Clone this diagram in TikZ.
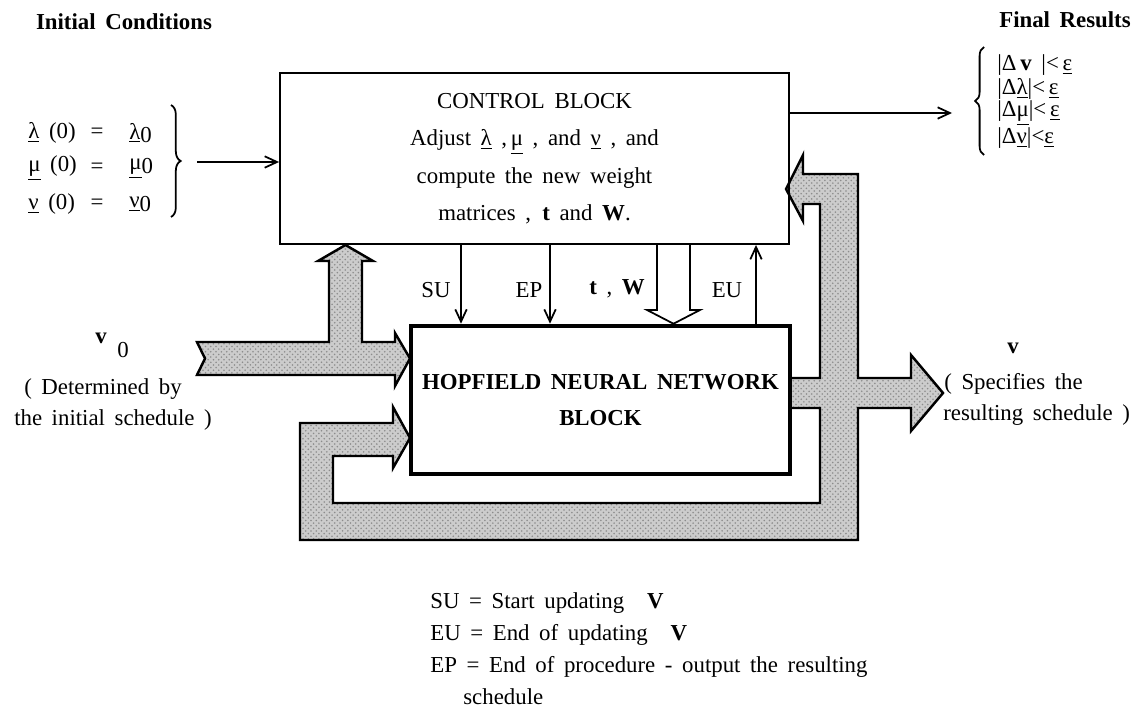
\documentclass[tikz,border=0pt]{standalone}
\usepackage{fontspec}
\setmainfont{Liberation Serif}
\usetikzlibrary{arrows.meta,patterns,decorations.pathreplacing}
\begin{document}
\begin{tikzpicture}[x=0.02cm,y=-0.02cm,
  every node/.style={font={\fontsize{13}{16}\selectfont\spaceskip=0.42em\relax}, inner sep=0pt},
  sig/.style={line width=1pt, -{Straight Barb[length=7pt,width=6.5pt,line width=1pt]}},
  shaded/.style={draw, line width=1.4pt, line join=miter, preaction={fill=gray!40}, pattern=crosshatch dots, pattern color=gray!90},
  ctrlbox/.style={draw, line width=1.1pt, minimum width=10.18cm, minimum height=3.42cm, align=center,
    font={\fontsize{13}{21.3}\selectfont\spaceskip=0.42em\relax}},
  hopbox/.style={draw, line width=2.6pt, minimum width=7.58cm, minimum height=2.96cm, align=center,
    font={\fontsize{13}{20.5}\selectfont\bfseries\spaceskip=0.42em\relax}},
  hdr/.style={font={\fontsize{13}{16}\selectfont\bfseries\spaceskip=0.42em\relax}},
  brc/.style={decorate, line width=1pt}
]
\fill[white] (0,0) rectangle (1142,726);
\useasboundingbox (0,0) rectangle (1142,726);

% shaded arrows
\path[shaded] (197,342) -- (329,342) -- (329,261) -- (318,261) -- (345.5,245) -- (373,261) -- (362,261)
  -- (362,342) -- (395,342) -- (395,333) -- (410,358.5) -- (395,386) -- (395,375) -- (197,375) -- (205,358.5) -- cycle;
\path[shaded] (410,438) -- (393,468) -- (393,456) -- (333,456) -- (333,503) -- (820,503) -- (820,408)
  -- (790,408) -- (790,378) -- (820,378) -- (820,204) -- (803,204) -- (803,221) -- (786,189)
  -- (803,155) -- (803,174) -- (858,174) -- (858,378) -- (911,378) -- (911,355) -- (943,393)
  -- (911,431) -- (911,408) -- (858,408) -- (858,540) -- (300,540) -- (300,423) -- (393,423)
  -- (393,407) -- cycle;

% blocks
\node[ctrlbox] (ctrl) at (534.5,158.5) {CONTROL BLOCK\\
  Adjust \underline{λ} ,\,\underline{μ} , and \underline{ν} , and\\
  compute the new weight\\
  matrices ,\enspace \textbf{t} and \textbf{W}.};
\node[hopbox] (hop) at (600.5,400) {HOPFIELD NEURAL NETWORK\\BLOCK};

% signal connectors
\coordinate (xSU) at (461,0);
\coordinate (xEP) at (550,0);
\coordinate (xTL) at (657,0);
\coordinate (xTR) at (690,0);
\coordinate (xTM) at (673.5,0);
\coordinate (xEU) at (756,0);
\coordinate (hL) at (647,310);
\coordinate (hR) at (700,310);
\coordinate (yTH) at (0,310);
\draw[sig] (ctrl.south -| xSU) -- (hop.north -| xSU);
\draw[sig] (ctrl.south -| xEP) -- (hop.north -| xEP);
\draw[sig] (hop.north -| xEU) -- (ctrl.south -| xEU);
\draw[line width=1pt, line join=miter] (ctrl.south -| xTL) -- (xTL |- yTH) -- (hL)
  -- (hop.north -| xTM) -- (hR) -- (xTR |- yTH) -- (ctrl.south -| xTR);
\node (lSU) at (436,290) {SU};
\node (lEP) at (529,290) {EP};
\node (lTW) at (617,289) {\textbf{t} , \textbf{W}};
\node (lEU) at (727,290) {EU};

% inputs
\coordinate (inA) at (197,162);
\draw[sig] (inA) -- (inA -| ctrl.west);
\coordinate (outA) at (952,113);
\draw[sig] (outA -| ctrl.east) -- (outA);

% headers
\node[hdr] (ic) at (124,22) {Initial Conditions};
\node[hdr] (fr) at (1065,20) {Final Results};

% initial conditions
\node[anchor=west] (e1a) at (28,133) {\underline{λ} (0)};
\node (e1b) at (97,133) {=};
\node[anchor=west] (e1c) at (129,133) {\underline{λ}\raisebox{-2pt}{0}};
\node[anchor=west] (e2a) at (28,168) {\underline{μ} (0)};
\node (e2b) at (97,168) {=};
\node[anchor=west] (e2c) at (129,168) {\underline{μ}\raisebox{-2pt}{0}};
\node[anchor=west] (e3a) at (28,204) {\underline{ν} (0)};
\node (e3b) at (97,204) {=};
\node[anchor=west] (e3c) at (129,204) {\underline{ν}\raisebox{-2pt}{0}};
\draw[brc, decoration={brace, amplitude=5.5pt}] (171,105) -- (171,217);

% final results
\draw[brc, decoration={brace, amplitude=5pt}] (984,155) -- (984,47);
\node[anchor=west] (f1) at (997,65) {|Δ\,\textbf{v} |<\,\underline{ε}};
\node[anchor=west] (f2) at (997,89) {|Δ\underline{λ}|<\,\underline{ε}};
\node[anchor=west] (f3) at (997,113) {|Δ\underline{μ}|<\,\underline{ε}};
\node[anchor=west] (f4) at (997,138) {|Δ\underline{ν}|<\underline{ε}};

% v0 and v labels
\node (v0) at (112,345) {\textbf{v}\hspace{6pt}\raisebox{-8pt}{0}};
\node (d1) at (103,389) {( Determined by};
\node (d2) at (113,420) {the initial schedule )};
\node (vr) at (1013,348) {\textbf{v}};
\node[anchor=west] (s1) at (944,384) {( Specifies the};
\node[anchor=west] (s2) at (943,415) {resulting schedule )};

% legend
\node[anchor=west] (g1) at (430,603) {SU = Start updating\hspace{1em}\textbf{V}};
\node[anchor=west] (g2) at (430,635) {EU = End of updating\hspace{1em}\textbf{V}};
\node[anchor=west] (g3) at (430,667) {EP = End of procedure - output the resulting};
\node[anchor=west] (g4) at (463,697) {schedule};
\end{tikzpicture}
\end{document}
